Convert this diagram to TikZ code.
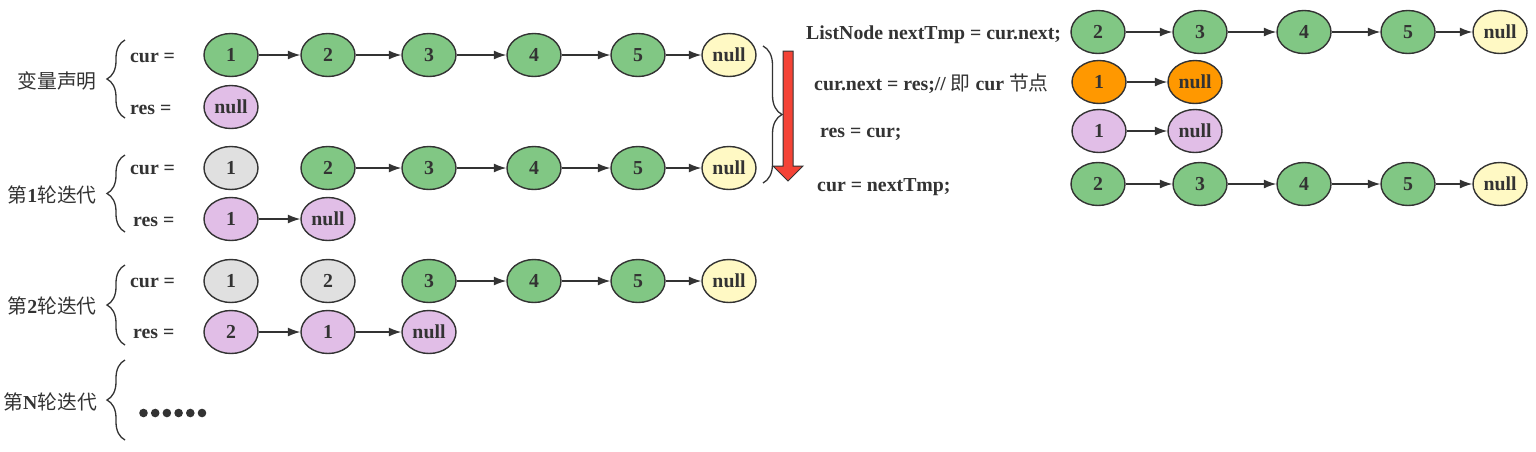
\documentclass[tikz,border=0pt]{standalone}
\usepackage{fontspec}
\setmainfont{Liberation Serif}
\newfontfamily\cjk{Noto Sans CJK SC}
\usetikzlibrary{shapes.geometric,arrows.meta,decorations.pathreplacing}
\definecolor{dk}{HTML}{333333}
\definecolor{gfill}{HTML}{81C784}
\definecolor{pfill}{HTML}{E1BEE7}
\definecolor{yfill}{HTML}{FFF9C4}
\definecolor{hfill}{HTML}{E0E0E0}
\definecolor{ofill}{HTML}{FF9800}
\definecolor{rfill}{HTML}{F44336}
\newcommand\myfs{\fontsize{19.8}{23}\selectfont}
\begin{document}
\begin{tikzpicture}[x=1pt,y=-1pt,
  lnode/.style={ellipse, draw=dk, line width=1.4pt, minimum width=54pt, minimum height=43pt, inner sep=0pt, font=\bfseries\myfs, text=dk},
  gn/.style={lnode, fill=gfill},
  pn/.style={lnode, fill=pfill},
  yn/.style={lnode, fill=yfill},
  hn/.style={lnode, fill=hfill},
  on/.style={lnode, fill=ofill},
  link/.style={draw=dk, line width=1.3pt, -{Latex[length=12.5pt,width=9pt]}},
  lbl/.style={anchor=west, inner sep=0pt, font=\bfseries\myfs, text=dk},
  rowlbl/.style={anchor=east, inner sep=0pt, font=\myfs, text=dk},
  brc/.style={decorate, decoration={brace, amplitude=18pt}, draw=dk, line width=1.3pt}
]
\fill[white] (0,0) rectangle (1536,451);
\useasboundingbox (0,0) rectangle (1536,451);

% row labels and braces
\node[rowlbl] (l0) at (97,81) {\cjk 变量声明};
\node[rowlbl] (l1) at (97,195) {{\cjk 第}\textbf{1}{\cjk 轮迭代}};
\node[rowlbl] (l2) at (97,306) {{\cjk 第}\textbf{2}{\cjk 轮迭代}};
\node[rowlbl] (l3) at (97,402) {{\cjk 第}\textbf{N}{\cjk 轮迭代}};
\draw[brc] (125,118) -- (125,40);
\draw[brc] (125,232) -- (125,155);
\draw[brc] (125,345) -- (125,265);
\draw[brc] (125,440) -- (125,360);

\node[lbl] (t0c) at (130,58) {cur =};
\node[lbl] (t0r) at (130,110) {res =};
\node[lbl] (t1c) at (130,170) {cur =};
\node[lbl] (t1r) at (133,222) {res =};
\node[lbl] (t2c) at (130,283) {cur =};
\node[lbl] (t2r) at (133,334) {res =};

% declaration
\node[gn] (a1) at (231,55) {1};
\node[gn] (a2) at (328,55) {2};
\node[gn] (a3) at (429,55) {3};
\node[gn] (a4) at (534,55) {4};
\node[gn] (a5) at (638,55) {5};
\node[yn] (an) at (729,55) {null};
\draw[link] (a1) -- (a2);
\draw[link] (a2) -- (a3);
\draw[link] (a3) -- (a4);
\draw[link] (a4) -- (a5);
\draw[link] (a5) -- (an);
\node[pn] (ar) at (231,107) {null};

% iteration 1
\node[hn] (b1) at (231,168) {1};
\node[gn] (b2) at (328,168) {2};
\node[gn] (b3) at (429,168) {3};
\node[gn] (b4) at (534,168) {4};
\node[gn] (b5) at (638,168) {5};
\node[yn] (bn) at (729,168) {null};
\draw[link] (b2) -- (b3);
\draw[link] (b3) -- (b4);
\draw[link] (b4) -- (b5);
\draw[link] (b5) -- (bn);
\node[pn] (br1) at (231,219) {1};
\node[pn] (brn) at (328,219) {null};
\draw[link] (br1) -- (brn);

% iteration 2
\node[hn] (c1) at (231,281) {1};
\node[hn] (c2) at (328,281) {2};
\node[gn] (c3) at (429,281) {3};
\node[gn] (c4) at (534,281) {4};
\node[gn] (c5) at (638,281) {5};
\node[yn] (cn) at (729,281) {null};
\draw[link] (c3) -- (c4);
\draw[link] (c4) -- (c5);
\draw[link] (c5) -- (cn);
\node[pn] (cr2) at (231,332) {2};
\node[pn] (cr1) at (328,332) {1};
\node[pn] (crn) at (429,332) {null};
\draw[link] (cr2) -- (cr1);
\draw[link] (cr1) -- (crn);

% iteration N dots
\foreach \i in {0,...,5} {\fill[dk] (143.5+11.7*\i,413) circle (4.3);}

% right brace and red arrow
\draw[brc, decoration={brace, amplitude=19pt}] (763,46) -- (763,183);
\draw[draw=dk, line width=1pt, fill=rfill] (783,51) -- (793,51) -- (793,166) -- (803,166) -- (788,181) -- (773,166) -- (783,166) -- cycle;

% code lines
\node[lbl] (s1) at (806,35) {ListNode nextTmp = cur.next;};
\node[lbl] (s2) at (814,84) {cur.next = res;// {\cjk\mdseries 即} cur {\cjk\mdseries 节点}};
\node[lbl] (s3) at (820,134) {res = cur;};
\node[lbl] (s4) at (817,187) {cur = nextTmp;};

% right side lists
\node[gn] (d2) at (1098,32) {2};
\node[gn] (d3) at (1200,32) {3};
\node[gn] (d4) at (1304,32) {4};
\node[gn] (d5) at (1408,32) {5};
\node[yn] (dn) at (1500,32) {null};
\draw[link] (d2) -- (d3);
\draw[link] (d3) -- (d4);
\draw[link] (d4) -- (d5);
\draw[link] (d5) -- (dn);

\node[on] (e1) at (1099,82) {1};
\node[on] (en) at (1195,82) {null};
\draw[link] (e1) -- (en);

\node[pn] (f1) at (1099,131) {1};
\node[pn] (fn) at (1195,131) {null};
\draw[link] (f1) -- (fn);

\node[gn] (g2) at (1098,184) {2};
\node[gn] (g3) at (1200,184) {3};
\node[gn] (g4) at (1304,184) {4};
\node[gn] (g5) at (1408,184) {5};
\node[yn] (gn1) at (1500,184) {null};
\draw[link] (g2) -- (g3);
\draw[link] (g3) -- (g4);
\draw[link] (g4) -- (g5);
\draw[link] (g5) -- (gn1);
\end{tikzpicture}
\end{document}
